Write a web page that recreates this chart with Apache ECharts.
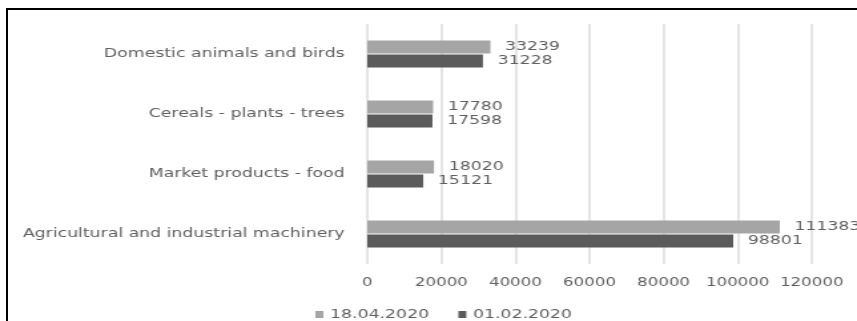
<!DOCTYPE html>
<html>
<head>
<meta charset="utf-8">
<script src="https://cdn.jsdelivr.net/npm/echarts@6/dist/echarts.min.js"></script>
<style>
  html, body { margin: 0; padding: 0; background: #ffffff; }
  #wrap { position: relative; width: 857px; height: 321px; overflow: hidden; background: #ffffff; }
  /* the chart is laid out narrower and stretched horizontally to the full width */
  #chart { position: absolute; left: 0; top: 0; width: 644px; height: 321px;
           transform: scaleX(1.3307); transform-origin: 0 0; }
  #frameTop { position: absolute; left: 6px; top: 8px; right: 0; height: 2px; background: #000; }
  #frameLeft { position: absolute; left: 6px; top: 8px; bottom: 0; width: 2px; background: #000; }
</style>
</head>
<body>
<div id="wrap">
  <div id="chart"></div>
  <div id="frameTop"></div>
  <div id="frameLeft"></div>
</div>
<script>
// Categories, bottom to top
const categories = [
  'Agricultural and industrial machinery',
  'Market products - food',
  'Cereals - plants - trees',
  'Domestic animals and birds'
];
const seriesNames = ['18.04.2020', '01.02.2020'];
const valuesApr = [111383, 18020, 17780, 33239];
const valuesFeb = [98801, 15121, 17598, 31228];
const axisMax = 120000;
const axisStep = 20000;

const textGray = '#606060';
const font = 'DejaVu Sans';

const chart = echarts.init(document.getElementById('chart'), null, { renderer: 'canvas' });

function barSeries(name, data, color) {
  return {
    name: name,
    type: 'bar',
    data: data,
    barWidth: 13,
    barGap: '8%',
    itemStyle: { color: color },
    label: {
      show: true,
      position: 'right',
      distance: 11,
      color: textGray,
      fontFamily: font,
      fontSize: 13
    }
  };
}

chart.setOption({
  animation: false,
  backgroundColor: '#ffffff',
  grid: { left: 276, right: 34, top: 24, bottom: 57, containLabel: false },
  legend: {
    left: 232,
    top: 303,
    itemWidth: 6,
    itemHeight: 7,
    itemGap: 22,
    icon: 'rect',
    textStyle: { color: textGray, fontFamily: font, fontSize: 13 },
    data: seriesNames
  },
  xAxis: {
    type: 'value',
    min: 0,
    max: axisMax,
    interval: axisStep,
    axisLine: { show: false },
    axisTick: { show: false },
    axisLabel: {
      color: textGray, fontFamily: font, fontSize: 12.5, margin: 12,
      formatter: function (v) { return String(v); }
    },
    splitLine: { show: true, lineStyle: { color: '#dcdcdc', width: 1.5 } }
  },
  yAxis: {
    type: 'category',
    data: categories,
    axisLine: { show: false },
    axisTick: { show: false },
    axisLabel: { color: textGray, fontFamily: font, fontSize: 13, margin: 17 }
  },
  series: [
    barSeries(seriesNames[0], valuesApr, '#a5a5a5'),
    barSeries(seriesNames[1], valuesFeb, '#5b5b5b')
  ]
});
</script>
</body>
</html>
